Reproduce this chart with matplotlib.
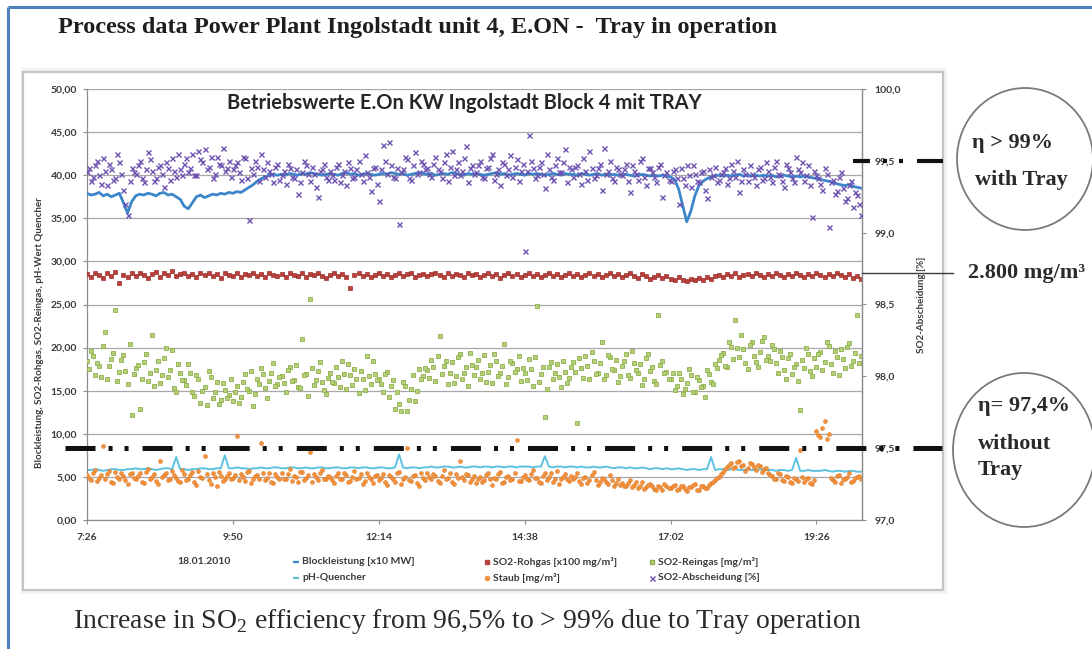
import numpy as np
import matplotlib
matplotlib.use("Agg")
import matplotlib.pyplot as plt
from matplotlib.patches import Rectangle, Ellipse

plt.rcParams['lines.scale_dashes'] = False
plt.rcParams['mathtext.fontset'] = 'custom'
plt.rcParams['mathtext.rm'] = 'Liberation Serif'

# ---------------------------------------------------------------- data
# reading times in minutes after 7:26: main readings every 4 minutes,
# intermediate readings 2 minutes later
minutes = np.arange(0, 768, 4)
minutes_mid = np.arange(2, 766, 4)
tick_minutes = [0, 144, 288, 432, 576, 720]
tick_labels = ["7:26", "9:50", "12:14", "14:38", "17:02", "19:26"]
date_label = "18.01.2010"

# Blockleistung [x10 MW]
blockleistung = [
    37.9, 37.7, 37.8, 38.0, 37.6, 37.8, 37.5, 37.7, 37.9, 36.8, 35.6, 36.9,
    37.6, 37.8, 37.7, 37.9, 37.8, 37.6, 37.9, 38.0, 37.7, 37.8, 37.5, 37.2,
    36.4, 36.1, 36.8, 37.5, 37.7, 37.4, 37.6, 37.8, 37.7, 37.9, 37.8, 38.0,
    37.9, 38.1, 38.0, 38.3, 38.6, 38.9, 39.3, 39.6, 39.8, 40.0, 40.1, 40.0,
    40.1, 40.0, 40.2, 40.1, 40.0, 40.2, 40.1, 40.3, 40.2, 40.1, 40.0, 40.1,
    40.2, 40.1, 40.0, 40.2, 40.3, 40.1, 40.2, 40.0, 40.1, 40.2, 40.1, 40.0,
    40.1, 40.2, 40.1, 40.3, 40.2, 40.1, 40.2, 40.0, 40.1, 40.2, 40.3, 40.2,
    40.1, 40.2, 40.0, 40.1, 40.2, 40.1, 40.3, 40.2, 40.1, 40.0, 40.2, 40.1,
    40.2, 40.1, 40.0, 40.1, 40.2, 40.3, 40.1, 40.2, 40.0, 40.1, 40.2, 40.1,
    40.0, 40.2, 40.1, 40.2, 40.1, 40.0, 40.1, 40.2, 40.1, 40.0, 40.2, 40.1,
    40.1, 40.0, 40.2, 40.1, 40.0, 40.1, 40.2, 40.0, 40.1, 40.0, 40.1, 40.0,
    40.0, 40.1, 40.0, 39.9, 40.0, 40.1, 40.0, 39.9, 40.0, 39.9, 40.0, 39.9,
    39.8, 39.5, 38.4, 36.5, 34.6, 35.8, 37.6, 38.8, 39.3, 39.6, 39.8, 39.9,
    40.0, 39.9, 40.0, 39.9, 40.0, 40.1, 39.9, 40.0, 39.9, 40.0, 39.9, 40.0,
    39.9, 40.0, 39.8, 39.9, 40.0, 39.9, 39.8, 39.9, 39.8, 39.9, 39.8, 39.7,
    39.6, 39.5, 39.4, 39.3, 39.2, 39.0, 38.9, 38.8, 38.9, 38.7, 38.6, 38.5,
]

# pH-Quencher
ph_quencher = [
    5.8, 5.8, 5.9, 5.8, 5.7, 5.8, 5.9, 5.9, 5.8, 5.8, 5.9, 5.9,
    6.0, 5.9, 5.9, 6.0, 5.9, 5.8, 5.9, 6.0, 6.0, 5.9, 7.3, 5.9,
    5.9, 5.8, 5.9, 5.9, 6.0, 6.0, 5.9, 5.9, 6.0, 6.0, 7.5, 6.0,
    6.0, 6.1, 6.0, 6.0, 5.9, 6.0, 6.0, 6.1, 6.0, 6.0, 6.1, 6.1,
    6.0, 6.0, 6.1, 6.1, 6.0, 6.0, 6.1, 6.0, 6.0, 6.1, 6.1, 6.0,
    6.0, 6.1, 6.1, 6.0, 6.0, 6.1, 6.1, 6.0, 6.1, 6.1, 6.0, 6.0,
    6.1, 6.1, 6.0, 6.0, 6.1, 7.6, 6.1, 6.0, 6.1, 6.1, 6.0, 6.1,
    6.1, 6.2, 6.1, 6.1, 6.2, 6.2, 6.1, 6.1, 6.2, 6.1, 6.1, 6.2,
    6.2, 6.1, 6.2, 6.2, 6.1, 6.2, 6.2, 6.1, 6.2, 6.2, 6.1, 6.2,
    6.2, 6.2, 6.1, 6.2, 6.2, 7.4, 6.2, 6.1, 6.2, 6.2, 6.1, 6.2,
    6.2, 6.1, 6.2, 6.1, 6.1, 6.2, 6.1, 6.1, 6.2, 6.1, 6.0, 6.1,
    6.1, 6.0, 6.1, 6.0, 6.0, 6.1, 6.0, 5.9, 6.0, 6.0, 5.9, 6.0,
    5.9, 5.9, 6.0, 5.9, 5.8, 5.9, 5.9, 5.8, 5.9, 5.9, 7.3, 5.8,
    5.9, 5.9, 5.8, 5.9, 5.9, 5.8, 5.8, 5.9, 5.8, 5.8, 5.9, 5.8,
    5.8, 5.8, 5.7, 5.8, 5.8, 5.7, 5.8, 7.2, 5.7, 5.7, 5.8, 5.7,
    5.7, 5.7, 5.8, 5.7, 5.6, 5.7, 5.7, 5.6, 5.7, 5.7, 5.6, 5.6,
]

# SO2-Rohgas [x100 mg/m³]
so2_rohgas = [
    28.5, 28.2, 28.7, 28.4, 28.1, 28.6, 28.3, 28.8, 27.5, 28.4, 28.2, 28.6,
    28.3, 28.7, 28.4, 28.1, 28.5, 28.8, 28.2, 28.6, 28.4, 28.9, 28.3, 28.5,
    28.6, 28.3, 28.5, 28.2, 28.7, 28.4, 28.6, 28.3, 28.5, 28.1, 28.6, 28.4,
    28.3, 28.6, 28.2, 28.5, 28.4, 28.7, 28.3, 28.5, 28.2, 28.6, 28.4, 28.3,
    28.5, 28.2, 28.6, 28.4, 28.3, 28.7, 28.2, 28.5, 28.4, 28.6, 28.3, 28.1,
    28.4, 28.6, 28.3, 28.5, 28.2, 26.9, 28.4, 28.7, 28.3, 28.5, 28.2, 28.4,
    28.6, 28.3, 28.5, 28.2, 28.4, 28.7, 28.3, 28.5, 28.6, 28.2, 28.4, 28.5,
    28.3, 28.5, 28.7, 28.4, 28.2, 28.6, 28.3, 28.5, 28.4, 28.2, 28.6, 28.4,
    28.5, 28.2, 28.4, 28.6, 28.3, 28.5, 28.1, 28.4, 28.6, 28.3, 28.5, 28.2,
    28.4, 28.6, 28.3, 28.5, 28.2, 28.4, 28.7, 28.3, 28.5, 28.2, 28.4, 28.6,
    28.3, 28.5, 28.2, 28.4, 28.6, 28.3, 28.5, 28.2, 28.4, 28.6, 28.3, 28.5,
    28.2, 28.4, 28.6, 28.3, 28.1, 28.5, 28.3, 28.0, 28.2, 28.4, 28.1, 28.3,
    28.0, 27.9, 28.2, 27.8, 27.7, 28.0, 27.8, 28.1, 27.9, 28.2, 28.0, 28.3,
    28.4, 28.2, 28.5, 28.3, 28.6, 28.2, 28.4, 28.5, 28.3, 28.6, 28.4, 28.2,
    28.5, 28.3, 28.6, 28.4, 28.2, 28.5, 28.3, 28.7, 28.4, 28.2, 28.5, 28.3,
    28.6, 28.4, 28.2, 28.5, 28.3, 28.7, 28.4, 28.2, 28.5, 28.1, 28.3, 28.0,
]

# SO2-Reingas [mg/m³]
so2_reingas = [
    18.4, 19.6, 16.8, 17.9, 20.2, 16.3, 18.7, 24.4, 17.2, 19.1, 15.8, 12.2,
    17.6, 12.9, 18.3, 16.1, 21.5, 17.4, 15.9, 18.8, 16.6, 19.7, 14.8, 17.1,
    16.2, 18.1, 14.9, 16.8, 13.6, 15.4, 17.3, 14.2, 16.0, 13.9, 15.1, 14.5,
    13.8, 15.6, 14.3, 16.9, 15.0, 13.2, 16.4, 17.6, 15.3, 16.1, 18.2, 15.8,
    16.7, 14.9, 17.8, 16.2, 15.4, 21.0, 16.9, 25.6, 15.7, 17.3, 16.0, 14.6,
    17.1, 15.9, 16.6, 18.4, 15.2, 16.8, 17.5, 14.7, 16.3, 19.0, 15.8, 16.9,
    16.4, 14.8, 17.2, 15.6, 12.9, 13.4, 16.0, 12.6, 15.2, 13.8, 17.5, 16.7,
    17.4, 18.6, 16.1, 21.3, 17.9, 15.8, 18.3, 16.7, 19.2, 17.0, 15.5, 18.0,
    17.8, 16.4, 19.1, 17.2, 15.9, 18.5, 17.0, 20.4, 16.6, 18.2, 17.5, 16.1,
    17.0, 18.7, 15.6, 24.8, 16.9, 12.0, 17.8, 16.3, 18.1, 15.4, 17.2, 16.5,
    18.3, 11.3, 17.6, 19.0, 16.4, 18.5, 17.1, 20.7, 16.8, 18.9, 17.4, 16.0,
    17.9, 19.3, 16.5, 18.2, 17.0, 15.7, 18.8, 17.3, 16.1, 23.8, 18.4, 17.2,
    16.3, 15.1, 17.0, 14.6, 15.9, 16.8, 14.9, 16.2, 15.5, 17.4, 16.0, 18.1,
    18.6, 19.4, 17.7, 20.1, 23.2, 18.9, 19.8, 17.5, 20.6, 18.3, 19.5, 21.2,
    19.0, 20.3, 18.2, 19.6, 17.4, 18.8, 16.9, 18.1, 12.8, 17.6, 19.2, 16.7,
    17.8, 19.5, 18.3, 20.2, 17.1, 18.9, 19.8, 17.6, 20.5, 18.4, 23.8, 19.0,
]
so2_reingas_mid = [
    17.5, 19.0, 18.2, 16.6, 21.8, 17.9, 19.4, 16.1, 18.6, 17.3, 20.4, 16.9,
    18.0, 16.4, 19.3, 17.1, 15.6, 18.5, 16.8, 19.9, 17.4, 15.3, 18.1, 16.2,
    15.7, 17.0, 14.4, 16.3, 15.0, 13.3, 16.6, 14.8, 13.5, 15.9, 14.1, 16.4,
    14.9, 13.6, 16.0, 15.2, 17.3, 14.6, 15.8, 16.9, 14.2, 17.0, 15.5, 16.6,
    15.9, 17.4, 16.1, 18.0, 15.3, 16.8, 14.4, 17.6, 16.2, 18.3, 15.1, 16.5,
    16.0, 17.7, 15.4, 16.9, 18.1, 15.7, 16.4, 17.3, 15.1, 16.7, 18.4, 16.2,
    15.8, 16.9, 14.3, 16.2, 14.9, 12.7, 15.5, 13.9, 16.8, 15.0, 16.3, 17.6,
    16.5, 17.8, 19.0, 16.9, 18.4, 17.1, 15.9, 18.9, 16.3, 17.7, 19.4, 16.8,
    18.6, 17.1, 16.0, 18.0, 19.3, 16.7, 17.9, 15.8, 18.4, 17.2, 19.0, 17.6,
    16.2, 17.5, 18.9, 16.0, 17.7, 15.2, 18.3, 17.0, 16.6, 18.5, 15.9, 17.8,
    17.2, 18.8, 16.5, 17.9, 19.5, 16.9, 18.2, 16.3, 19.1, 17.5, 18.6, 16.7,
    18.5, 16.8, 19.6, 17.4, 18.1, 16.3, 19.2, 17.8, 15.8, 18.0, 17.1, 16.4,
    17.1, 15.6, 16.4, 15.2, 17.5, 14.8, 16.6, 15.4, 14.3, 16.9, 15.8, 17.6,
    19.1, 17.9, 20.6, 18.7, 19.9, 21.5, 18.2, 20.3, 19.0, 17.8, 20.8, 18.6,
    18.4, 19.8, 17.0, 18.9, 16.3, 19.3, 17.7, 16.1, 18.6, 20.0, 17.3, 18.8,
    19.2, 17.4, 20.7, 18.1, 19.6, 16.8, 18.7, 20.1, 17.9, 19.4, 18.2,
]

# Staub [mg/m³]
staub = [
    5.2, 4.6, 5.8, 4.9, 8.6, 5.3, 4.4, 5.6, 4.8, 5.1, 4.2, 5.5,
    4.7, 5.4, 4.3, 5.9, 5.0, 4.5, 6.8, 5.2, 4.6, 5.7, 4.9, 4.4,
    5.3, 4.8, 5.6, 4.1, 5.0, 7.4, 4.6, 5.4, 3.9, 5.1, 4.7, 5.5,
    4.9, 9.8, 5.3, 4.5, 5.7, 4.8, 5.2, 8.9, 4.6, 5.5, 4.3, 5.0,
    5.4, 4.7, 5.9, 5.1, 4.4, 5.6, 4.9, 7.9, 5.3, 4.6, 5.8, 4.8,
    5.0, 4.3, 5.5, 4.8, 5.2, 4.5, 5.7, 4.9, 4.2, 5.4, 4.7, 5.1,
    4.6, 5.3, 4.1, 5.0, 4.4, 5.6, 4.8, 8.4, 4.5, 5.2, 4.0, 4.9,
    5.5, 4.7, 5.1, 4.3, 5.8, 4.9, 4.4, 5.3, 6.9, 4.6, 5.2, 4.8,
    4.3, 5.0, 4.6, 5.4, 4.1, 4.8, 5.6, 4.4, 5.1, 4.7, 9.3, 4.5,
    5.2, 4.6, 5.8, 4.9, 4.3, 5.5, 5.0, 4.4, 5.7, 4.8, 5.3, 4.5,
    4.8, 5.4, 4.2, 5.0, 4.6, 5.6, 4.1, 4.9, 4.4, 5.2, 4.0, 4.7,
    4.3, 3.9, 4.6, 4.1, 3.7, 4.4, 3.8, 4.2, 3.6, 4.0, 3.5, 3.9,
    3.7, 4.1, 3.6, 3.9, 3.4, 3.8, 4.2, 3.5, 4.0, 3.7, 4.3, 4.6,
    5.0, 5.6, 6.2, 6.6, 6.1, 6.8, 6.4, 6.0, 6.5, 5.8, 6.3, 5.9,
    5.5, 5.1, 4.7, 5.3, 4.5, 5.0, 4.3, 4.8, 8.1, 4.4, 4.9, 4.2,
    10.3, 9.6, 11.5, 10.0, 4.6, 5.1, 4.3, 4.8, 5.4, 4.5, 5.0, 4.7,
]
staub_mid = [
    4.9, 5.5, 4.5, 5.2, 4.8, 5.7, 4.3, 5.0, 5.4, 4.6, 5.3, 4.9,
    5.1, 4.4, 5.6, 4.8, 5.3, 4.2, 5.0, 5.5, 4.7, 5.2, 4.5, 5.8,
    4.6, 5.2, 4.4, 5.7, 4.9, 5.3, 4.2, 5.0, 5.6, 4.5, 5.1, 4.8,
    5.2, 4.6, 5.0, 5.6, 4.3, 5.1, 4.7, 5.4, 4.9, 4.4, 5.3, 4.8,
    4.7, 5.3, 4.5, 5.0, 5.6, 4.6, 5.2, 4.4, 5.0, 5.5, 4.7, 5.1,
    4.6, 5.1, 4.8, 5.5, 4.4, 5.0, 4.7, 5.3, 4.5, 5.0, 4.3, 5.2,
    4.9, 4.4, 5.2, 4.7, 5.4, 4.2, 5.0, 4.6, 5.1, 4.3, 5.5, 4.6,
    5.0, 5.3, 4.5, 5.1, 4.7, 5.4, 4.2, 4.9, 5.0, 5.3, 4.4, 5.1,
    4.8, 4.4, 5.2, 4.7, 4.9, 5.3, 4.3, 5.0, 4.6, 5.4, 4.5, 5.0,
    4.7, 5.3, 4.9, 4.4, 5.1, 4.6, 5.4, 4.8, 4.2, 5.0, 4.7, 5.1,
    5.0, 4.5, 4.9, 4.3, 5.2, 4.6, 4.4, 4.8, 4.2, 4.6, 4.3, 4.1,
    4.0, 4.3, 3.8, 4.4, 4.0, 3.6, 4.1, 3.9, 3.5, 3.8, 4.2, 3.7,
    3.9, 3.5, 4.0, 3.6, 3.8, 4.1, 3.5, 3.9, 3.7, 4.1, 4.4, 4.9,
    5.3, 5.9, 6.4, 6.0, 6.7, 6.3, 5.7, 6.6, 6.1, 6.4, 5.6, 6.0,
    5.2, 4.8, 5.4, 4.6, 5.1, 4.4, 4.9, 4.5, 5.0, 4.7, 4.3, 4.6,
    9.9, 10.7, 9.4, 4.9, 4.4, 5.2, 4.7, 5.0, 4.4, 4.9, 5.1,
]

# SO2-Abscheidung [%] (secondary axis)
so2_abscheidung = [
    99.42, 99.36, 99.47, 99.40, 99.52, 99.33, 99.44, 99.38, 99.49, 99.30, 99.12, 99.45,
    99.41, 99.50, 99.35, 99.56, 99.43, 99.38, 99.47, 99.32, 99.45, 99.52, 99.39, 99.44,
    99.48, 99.42, 99.55, 99.40, 99.51, 99.58, 99.46, 99.38, 99.53, 99.47, 99.43, 99.50,
    99.44, 99.49, 99.37, 99.52, 99.09, 99.41, 99.46, 99.55, 99.39, 99.43, 99.35, 99.48,
    99.40, 99.34, 99.45, 99.38, 99.27, 99.42, 99.47, 99.36, 99.41, 99.25, 99.44, 99.39,
    99.43, 99.37, 99.48, 99.40, 99.33, 99.45, 99.39, 99.50, 99.36, 99.42, 99.29, 99.46,
    99.22, 99.61, 99.41, 99.47, 99.38, 99.06, 99.44, 99.51, 99.37, 99.56, 99.42, 99.48,
    99.45, 99.39, 99.53, 99.43, 99.49, 99.36, 99.57, 99.44, 99.40, 99.52, 99.35, 99.47,
    99.42, 99.50, 99.38, 99.46, 99.55, 99.41, 99.33, 99.48, 99.44, 99.39, 99.51, 99.43,
    98.87, 99.68, 99.45, 99.40, 99.49, 99.31, 99.44, 99.37, 99.52, 99.42, 99.58, 99.46,
    99.39, 99.47, 99.34, 99.43, 99.57, 99.38, 99.45, 99.30, 99.41, 99.50, 99.36, 99.44,
    99.40, 99.48, 99.28, 99.43, 99.37, 99.52, 99.33, 99.45, 99.39, 99.46, 99.25, 99.42,
    99.36, 99.44, 99.20, 99.38, 99.47, 99.32, 99.41, 99.35, 99.43, 99.24, 99.39, 99.46,
    99.37, 99.42, 99.34, 99.48, 99.39, 99.28, 99.44, 99.36, 99.41, 99.33, 99.46, 99.38,
    99.43, 99.35, 99.50, 99.40, 99.32, 99.45, 99.38, 99.53, 99.42, 99.36, 99.47, 99.11,
    99.40, 99.34, 99.45, 99.04, 99.37, 99.29, 99.42, 99.22, 99.33, 99.18, 99.26, 99.12,
]
so2_abscheidung_mid = [
    99.45, 99.39, 99.50, 99.34, 99.43, 99.48, 99.37, 99.55, 99.41, 99.20, 99.36, 99.42,
    99.47, 99.38, 99.44, 99.51, 99.36, 99.46, 99.41, 99.49, 99.37, 99.43, 99.55, 99.40,
    99.52, 99.45, 99.40, 99.57, 99.49, 99.44, 99.53, 99.41, 99.48, 99.59, 99.45, 99.39,
    99.47, 99.42, 99.53, 99.38, 99.45, 99.50, 99.36, 99.44, 99.49, 99.41, 99.46, 99.37,
    99.43, 99.48, 99.39, 99.44, 99.35, 99.50, 99.41, 99.46, 99.32, 99.43, 99.48, 99.37,
    99.40, 99.46, 99.35, 99.43, 99.49, 99.38, 99.44, 99.41, 99.54, 99.39, 99.45, 99.34,
    99.44, 99.50, 99.63, 99.39, 99.45, 99.42, 99.53, 99.38, 99.47, 99.41, 99.50, 99.44,
    99.41, 99.48, 99.44, 99.38, 99.55, 99.46, 99.40, 99.49, 99.43, 99.60, 99.45, 99.41,
    99.47, 99.39, 99.45, 99.52, 99.37, 99.44, 99.49, 99.40, 99.54, 99.46, 99.36, 99.48,
    99.43, 99.50, 99.38, 99.46, 99.41, 99.55, 99.39, 99.47, 99.42, 99.49, 99.35, 99.44,
    99.46, 99.41, 99.52, 99.37, 99.45, 99.40, 99.48, 99.59, 99.43, 99.38, 99.46, 99.41,
    99.44, 99.36, 99.47, 99.41, 99.50, 99.39, 99.45, 99.42, 99.35, 99.48, 99.40, 99.37,
    99.43, 99.38, 99.45, 99.33, 99.40, 99.47, 99.36, 99.42, 99.30, 99.44, 99.40, 99.35,
    99.41, 99.45, 99.38, 99.43, 99.50, 99.36, 99.41, 99.47, 99.39, 99.44, 99.37, 99.49,
    99.39, 99.46, 99.41, 99.36, 99.48, 99.42, 99.35, 99.44, 99.49, 99.40, 99.33, 99.43,
    99.38, 99.30, 99.41, 99.35, 99.27, 99.39, 99.31, 99.24, 99.36, 99.28, 99.20,
]

left_ticks = [0, 5, 10, 15, 20, 25, 30, 35, 40, 45, 50]
right_ticks = [97.0, 97.5, 98.0, 98.5, 99.0, 99.5, 100.0]

# ---------------------------------------------------------------- styling
C_BLOCK = "#3d86c9"
C_PH = "#5cc2e0"
C_ROH = "#b8403b"
C_REIN = "#8fb04a"
C_STAUB = "#f2923f"
C_ABSCH = "#6b4fae"
AX_GREY = "#8c8c8c"
TXT_GREY = "#3a3a3a"
SANS = ["Lato", "DejaVu Sans"]
SERIF = ["Liberation Serif", "DejaVu Serif"]
SMALL = 7.5

W, H = 1092, 649
fig = plt.figure(figsize=(W / 100, H / 100), dpi=100)
fig.patch.set_facecolor("white")

# background layer in pixel coordinates
bg = fig.add_axes([0, 0, 1, 1], zorder=0)
bg.set_xlim(0, W)
bg.set_ylim(H, 0)
bg.axis("off")
# slide frame (blue)
bg.plot([8, W], [7, 7], color="#4f81bd", lw=2.2, solid_capstyle="butt")
bg.plot([8, 8], [7, H], color="#4f81bd", lw=2.2, solid_capstyle="butt")
# chart panel with soft shadow
bg.add_patch(Rectangle((21, 68), 926, 526, facecolor="#f3f3f3", edgecolor="none"))
bg.add_patch(Rectangle((23, 72), 920, 518, facecolor="white", edgecolor="#c4c4c4", lw=1.6))

# ---------------------------------------------------------------- data axes
L, R, T, B = 87, 862, 89, 520
ax = fig.add_axes([L / W, 1 - B / H, (R - L) / W, (B - T) / H], zorder=1)
ax.set_facecolor("none")
ax.set_xlim(0, 765)
ax.set_ylim(0, 50)
ax.set_yticks(left_ticks)
ax.set_yticklabels([f"{v:.2f}".replace(".", ",") for v in left_ticks])
ax.set_xticks(tick_minutes)
ax.set_xticklabels(tick_labels)
ax.grid(axis="y", color="#a8a8a8", lw=0.9)
ax.set_axisbelow(True)
ax.spines["top"].set_visible(False)
for side in ("left", "bottom", "right"):
    ax.spines[side].set_color(AX_GREY)
    ax.spines[side].set_linewidth(0.9)
ax.tick_params(axis="both", colors=AX_GREY, length=3, width=0.8, direction="out",
               labelsize=SMALL, labelcolor=TXT_GREY)
ax.tick_params(axis="y", pad=4)
ax.tick_params(axis="x", pad=6)
for lab in ax.get_xticklabels() + ax.get_yticklabels():
    lab.set_family(SANS)
    lab.set_fontweight("bold")

ax.plot(minutes, ph_quencher, color=C_PH, lw=1.4, zorder=2)
for t, v in ((minutes, staub), (minutes_mid, staub_mid)):
    ax.plot(t, v, ls="none", marker="o", ms=2.8, mfc=C_STAUB, mec="#e07a25",
            mew=0.4, zorder=3)
for t, v in ((minutes, so2_reingas), (minutes_mid, so2_reingas_mid)):
    ax.plot(t, v, ls="none", marker="s", ms=2.5, mfc="#b5d07a", mec=C_REIN,
            mew=0.6, zorder=3)
ax.plot(minutes, so2_rohgas, ls="none", marker="s", ms=3.0, mfc=C_ROH, mec="#9e2f2b",
        mew=0.5, zorder=3)
ax.plot(minutes, blockleistung, color=C_BLOCK, lw=2.0, zorder=4)

ax2 = ax.twinx()
ax2.set_ylim(97, 100)
ax2.set_yticks(right_ticks)
ax2.set_yticklabels([f"{v:.1f}".replace(".", ",") for v in right_ticks])
for side in ("top", "left", "bottom"):
    ax2.spines[side].set_visible(False)
ax2.spines["right"].set_color(AX_GREY)
ax2.spines["right"].set_linewidth(0.9)
ax2.tick_params(axis="y", colors=AX_GREY, length=3, width=0.8, direction="out",
                labelsize=SMALL, labelcolor=TXT_GREY, pad=6)
for lab in ax2.get_yticklabels():
    lab.set_family(SANS)
    lab.set_fontweight("bold")
for t, v in ((minutes, so2_abscheidung), (minutes_mid, so2_abscheidung_mid)):
    ax2.plot(t, v, ls="none", marker="x", ms=3.6, mec=C_ABSCH, mew=1.0, zorder=5)

# ---------------------------------------------------------------- foreground layer
fg = fig.add_axes([0, 0, 1, 1], zorder=5)
fg.set_facecolor("none")
fg.set_xlim(0, W)
fg.set_ylim(H, 0)
fg.axis("off")

fg.text(58, 28, "Process data Power Plant Ingolstadt unit 4, E.ON -  Tray in operation",
        family=SERIF, fontweight="bold", fontsize=17.5, color="#1e1e1e", va="center", ha="left")
fg.text(464, 103, "Betriebswerte E.On KW Ingolstadt Block 4 mit TRAY",
        family=SANS, fontweight="bold", fontsize=14.5, color="#262626", va="center", ha="center")
fg.text(40, 333, "Blockleistung, SO2-Rohgas, SO2-Reingas, pH-Wert Quencher",
        family=SANS, fontweight="bold", fontsize=7.1, color=TXT_GREY, rotation=90,
        va="center", ha="center")
fg.text(922, 305, "SO2-Abscheidung [%]", family=SANS, fontweight="bold", fontsize=7.1,
        color=TXT_GREY, rotation=90, va="center", ha="center")

# legend below the plot
fg.text(204, 562, date_label, family=SANS, fontweight="bold", fontsize=SMALL,
        color=TXT_GREY, va="center", ha="center")
legend_rows = [
    [(298, "Blockleistung [x10 MW]", dict(color=C_BLOCK, lw=1.6, ls="-")),
     (489, "SO2-Rohgas [x100 mg/m³]", dict(ls="none", marker="s", ms=2.8, mfc=C_ROH, mec=C_ROH)),
     (654, "SO2-Reingas [mg/m³]", dict(ls="none", marker="s", ms=2.8, mfc="#b5d07a", mec=C_REIN))],
    [(298, "pH-Quencher", dict(color=C_PH, lw=1.6, ls="-")),
     (489, "Staub [mg/m³]", dict(ls="none", marker="o", ms=3.0, mfc=C_STAUB, mec=C_STAUB)),
     (654, "SO2-Abscheidung [%]", dict(ls="none", marker="x", ms=3.6, mec=C_ABSCH, mew=1.0))],
]
for row_y, row in zip((562, 578), legend_rows):
    for x0, label, style in row:
        if style.get("ls") == "-":
            fg.plot([x0 - 5, x0 + 1], [row_y, row_y], solid_capstyle="butt", **style)
        else:
            fg.plot([x0 - 2], [row_y], **style)
        fg.text(x0 + 4, row_y, label, family=SANS, fontweight="bold", fontsize=SMALL,
                color=TXT_GREY, va="center", ha="left")

# efficiency marker lines (dash-dot-dot)
pattern = (21.6, 9.4, 2.9, 8.6, 2.9, 10.1)
fg.plot([65, 942], [448, 448], color="#111111", lw=3.6, ls=(0, pattern),
        dash_capstyle="butt")
fg.plot([853, 943], [161, 161], color="#111111", lw=3.0, ls=(9.4, pattern),
        dash_capstyle="butt")
fg.plot([862, 953], [273, 273], color="#3c3c3c", lw=1.0)

# annotation circles
fg.add_patch(Ellipse((1025, 159), 136, 142, facecolor="none", edgecolor="#7a7a7a", lw=1.3))
fg.add_patch(Ellipse((1024, 450), 142, 154, facecolor="none", edgecolor="#7a7a7a", lw=1.3))

serif_kw = dict(family=SERIF, fontweight="bold", fontsize=16, color="#2a2a2a",
                va="center", ha="left")
fg.text(972, 143, "η > 99%", **serif_kw)
fg.text(975, 180, "with Tray", **serif_kw)
fg.text(968, 273, "2.800 mg/m³", **serif_kw)
fg.text(978, 406, "η= 97,4%", **serif_kw)
fg.text(978, 444, "without", **serif_kw)
fg.text(978, 470, "Tray", **serif_kw)

fg.text(73, 622, r"Increase in SO$_\mathrm{2}$ efficiency from 96,5% to > 99% due to Tray operation",
        family=SERIF, fontsize=20, color="#2a2a2a", va="center", ha="left")

fig.savefig("out.png", dpi=100, facecolor="white")
